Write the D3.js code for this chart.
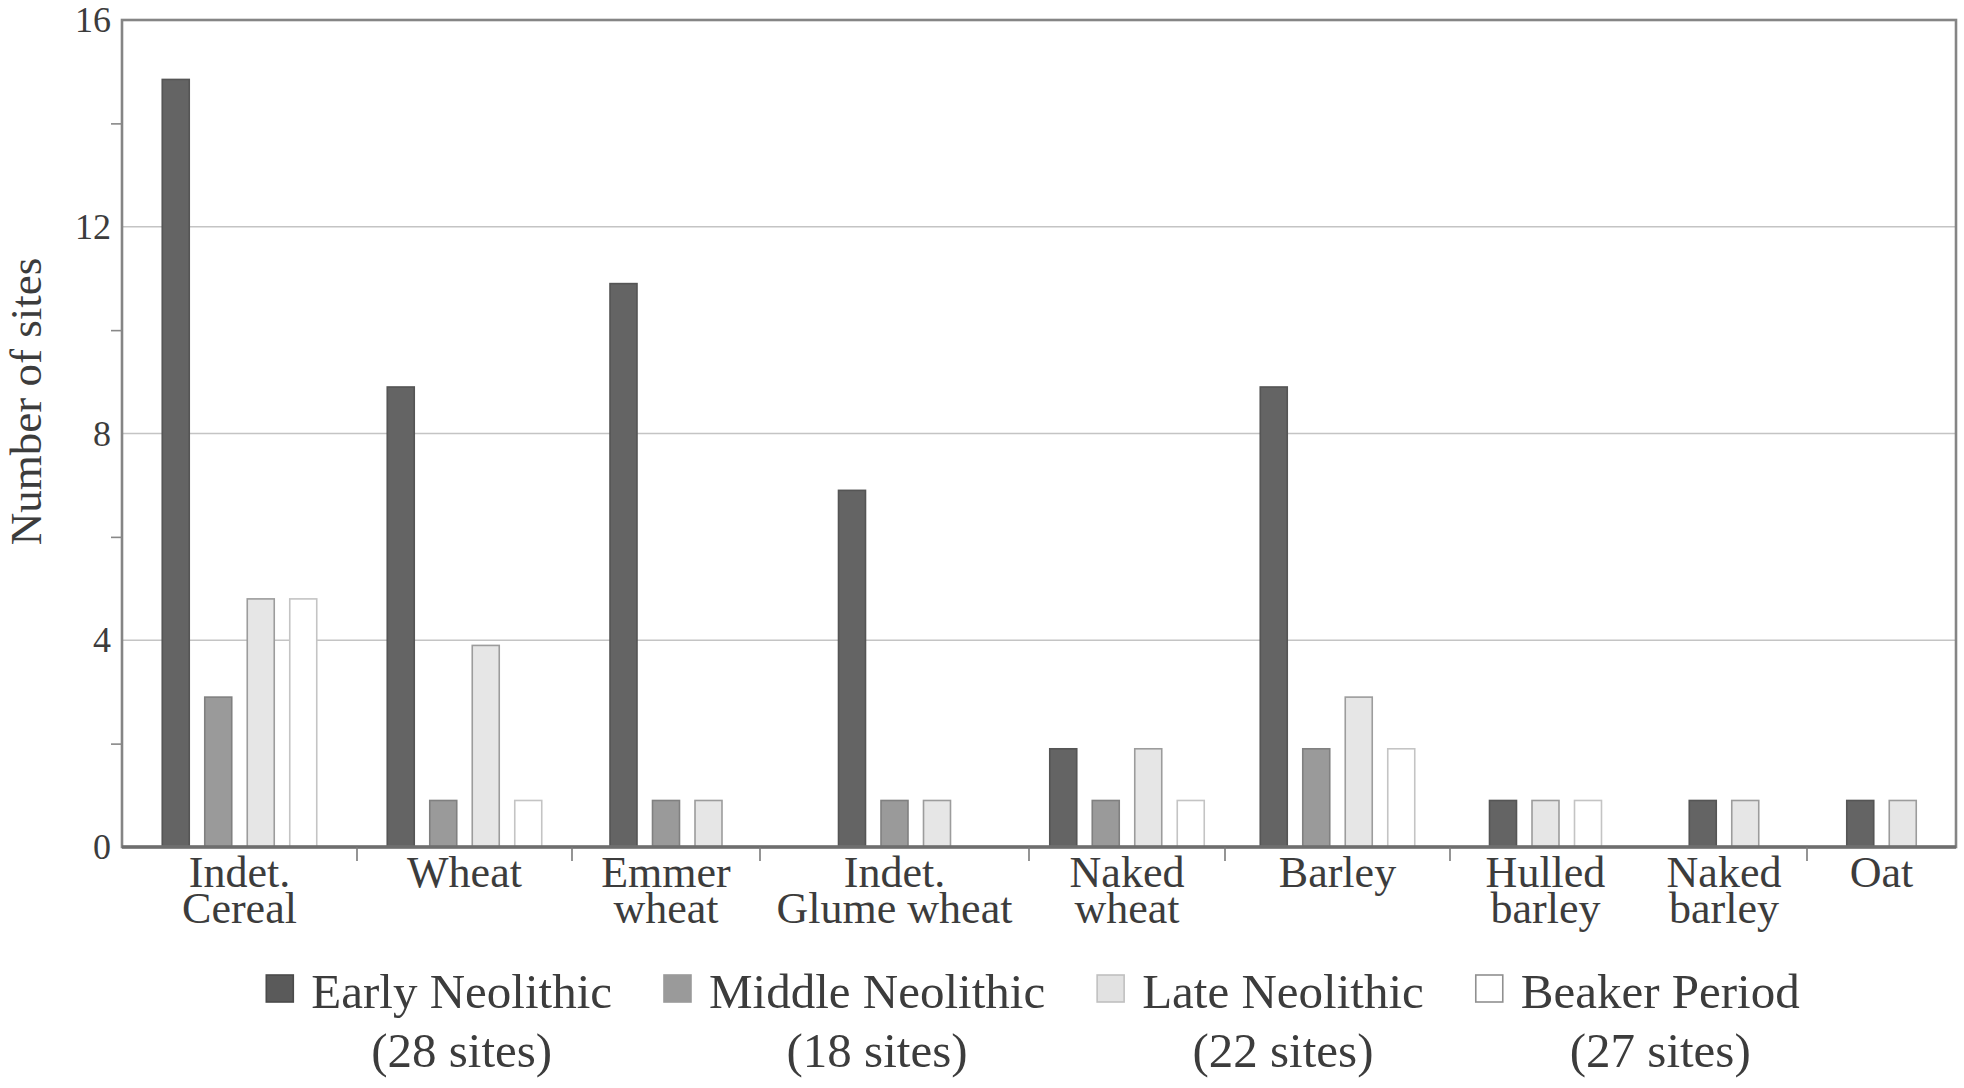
<!DOCTYPE html>
<html>
<head>
<meta charset="utf-8">
<script src="https://cdn.jsdelivr.net/npm/d3@7"></script>
<style>
  body { margin: 0; background: #fff; }
  text { font-family: "Liberation Serif", "Times New Roman", serif; fill: #3c3c3c; }
</style>
</head>
<body>
<div id="chart"></div>
<script>
// --- data ---
const categories = ["Indet. Cereal", "Wheat", "Emmer wheat", "Indet. Glume wheat", "Naked wheat",
  "Barley", "Hulled barley", "Naked barley", "Oat"];
const categoryLines = [["Indet.", "Cereal"], ["Wheat"], ["Emmer", "wheat"], ["Indet.", "Glume wheat"],
  ["Naked", "wheat"], ["Barley"], ["Hulled", "barley"], ["Naked", "barley"], ["Oat"]];

const periods = ["Early Neolithic", "Middle Neolithic", "Late Neolithic", "Beaker Period"];
const periodSites = [28, 18, 22, 27];

const earlyNeolithic  = [14.85, 8.9, 10.9, 6.9, 1.9, 8.9, 0.9, 0.9, 0.9];
const middleNeolithic = [2.9, 0.9, 0.9, 0.9, 0.9, 1.9, null, null, null];
const lateNeolithic   = [4.8, 3.9, 0.9, 0.9, 1.9, 2.9, 0.9, 0.9, 0.9];
const beakerPeriod    = [4.8, 0.9, null, null, 0.9, 1.9, 0.9, null, null];

const yTicks = [0, 4, 8, 12, 16];
const yMinorTicks = [2, 6, 10, 14];

// --- layout ---
const width = 1964, height = 1088;
const plotLeft = 122, plotRight = 1956, plotTop = 20, plotBottom = 847;
// relative widths of the category slots, as drawn in the original
const bandWeights = [235, 215, 188, 269, 196, 225, 191, 166, 149];
const noDividerBefore = [7];   // no tick between the two barley types
const barPitch = 42.5;

const fills   = ["#646464", "#9a9a9a", "#e6e6e6", "#ffffff"];
const strokes = ["#555555", "#808080", "#9c9c9c", "#c4c4c4"];
const swatchFills   = ["#5a5a5a", "#9a9a9a", "#e2e2e2", "#ffffff"];
const swatchStrokes = ["#4a4a4a", "#9a9a9a", "#c0c0c0", "#909090"];

const values = [earlyNeolithic, middleNeolithic, lateNeolithic, beakerPeriod];

const svg = d3.select("#chart").append("svg")
  .attr("width", width)
  .attr("height", height)
  .attr("viewBox", [0, 0, width, height]);

svg.append("rect").attr("width", width).attr("height", height).attr("fill", "#fff");

const y = d3.scaleLinear().domain([0, 16]).range([plotBottom, plotTop]);

const cum = [0, ...d3.cumsum(bandWeights)];
const x = d3.scaleLinear().domain([0, cum[cum.length - 1]]).range([plotLeft, plotRight]);
const bandCenter = i => (x(cum[i]) + x(cum[i + 1])) / 2;

// gridlines
svg.append("g")
  .selectAll("line")
  .data(yTicks.filter(d => d > 0 && d < 16))
  .join("line")
  .attr("x1", plotLeft).attr("x2", plotRight)
  .attr("y1", d => y(d)).attr("y2", d => y(d))
  .attr("stroke", "#c4c4c4")
  .attr("stroke-width", 1.5);

// bars
categories.forEach((cat, i) => {
  const present = d3.range(periods.length).filter(s => values[s][i] != null);
  const c = bandCenter(i);
  const inner = d3.scaleBand()
    .domain(present)
    .range([c - present.length * barPitch / 2, c + present.length * barPitch / 2])
    .paddingInner(0.365)
    .paddingOuter(0.1825);

  svg.append("g")
    .selectAll("rect")
    .data(present)
    .join("rect")
    .attr("x", s => inner(s))
    .attr("width", inner.bandwidth())
    .attr("y", s => y(values[s][i]))
    .attr("height", s => y(0) - y(values[s][i]))
    .attr("fill", s => fills[s])
    .attr("stroke", s => strokes[s])
    .attr("stroke-width", 1.6);
});

// plot frame
svg.append("rect")
  .attr("x", plotLeft).attr("y", plotTop)
  .attr("width", plotRight - plotLeft).attr("height", plotBottom - plotTop)
  .attr("fill", "none")
  .attr("stroke", "#858585")
  .attr("stroke-width", 2.6);

svg.append("line")
  .attr("x1", plotLeft).attr("x2", plotRight)
  .attr("y1", plotBottom).attr("y2", plotBottom)
  .attr("stroke", "#6e6e6e")
  .attr("stroke-width", 3.5);

// y axis labels
const yAxis = svg.append("g")
  .attr("transform", `translate(${plotLeft},0)`)
  .call(d3.axisLeft(y).tickValues(yTicks).tickSize(0).tickPadding(11).tickFormat(d3.format("d")));
yAxis.select(".domain").remove();
yAxis.selectAll("text")
  .style("font-family", "'Liberation Serif', 'Times New Roman', serif")
  .style("font-size", "36px")
  .attr("fill", "#3c3c3c");

// minor ticks
const yMinor = svg.append("g")
  .attr("transform", `translate(${plotLeft},0)`)
  .call(d3.axisLeft(y).tickValues(yMinorTicks).tickSize(11).tickFormat(""));
yMinor.select(".domain").remove();
yMinor.selectAll("line").attr("stroke", "#888").attr("stroke-width", 1.6);

svg.append("text")
  .attr("transform", `translate(41,${(plotTop + plotBottom) / 2 - 32}) rotate(-90)`)
  .attr("text-anchor", "middle")
  .style("font-size", "45px")
  .text("Number of sites");

// category dividers
svg.append("g")
  .selectAll("line")
  .data(d3.range(1, categories.length).filter(i => !noDividerBefore.includes(i)))
  .join("line")
  .attr("x1", i => x(cum[i])).attr("x2", i => x(cum[i]))
  .attr("y1", plotBottom).attr("y2", plotBottom + 14)
  .attr("stroke", "#7a7a7a")
  .attr("stroke-width", 1.6);

// category labels (two tight lines, as in the original)
svg.append("g")
  .selectAll("text")
  .data(categories)
  .join("text")
  .attr("text-anchor", "middle")
  .style("font-size", "44px")
  .attr("y", 887)
  .selectAll("tspan")
  .data((d, i) => categoryLines[i].map(t => ({ t, cx: bandCenter(i) })))
  .join("tspan")
  .attr("x", d => d.cx)
  .attr("dy", (d, j) => j === 0 ? 0 : 36)
  .text(d => d.t);

// legend
const legend = svg.append("g");
const swatch = 27, swatchGap = 18, itemGap = 52;
const items = periods.map((p, s) => {
  const g = legend.append("g");
  g.append("rect")
    .attr("width", swatch).attr("height", swatch)
    .attr("y", 1008 - 33)
    .attr("fill", swatchFills[s])
    .attr("stroke", swatchStrokes[s])
    .attr("stroke-width", 1.6);
  const t = g.append("text")
    .attr("x", swatch + swatchGap)
    .attr("y", 1008)
    .style("font-size", "49px")
    .text(p);
  const tw = t.node().getComputedTextLength();
  g.append("text")
    .attr("x", swatch + swatchGap + tw / 2)
    .attr("y", 1067)
    .attr("text-anchor", "middle")
    .style("font-size", "49px")
    .text(`(${periodSites[s]} sites)`);
  return { g, w: swatch + swatchGap + tw };
});
const total = d3.sum(items, d => d.w) + itemGap * (items.length - 1);
let lx = (plotLeft + plotRight) / 2 - 6 - total / 2;
items.forEach(it => {
  it.g.attr("transform", `translate(${lx},0)`);
  lx += it.w + itemGap;
});
</script>
</body>
</html>
